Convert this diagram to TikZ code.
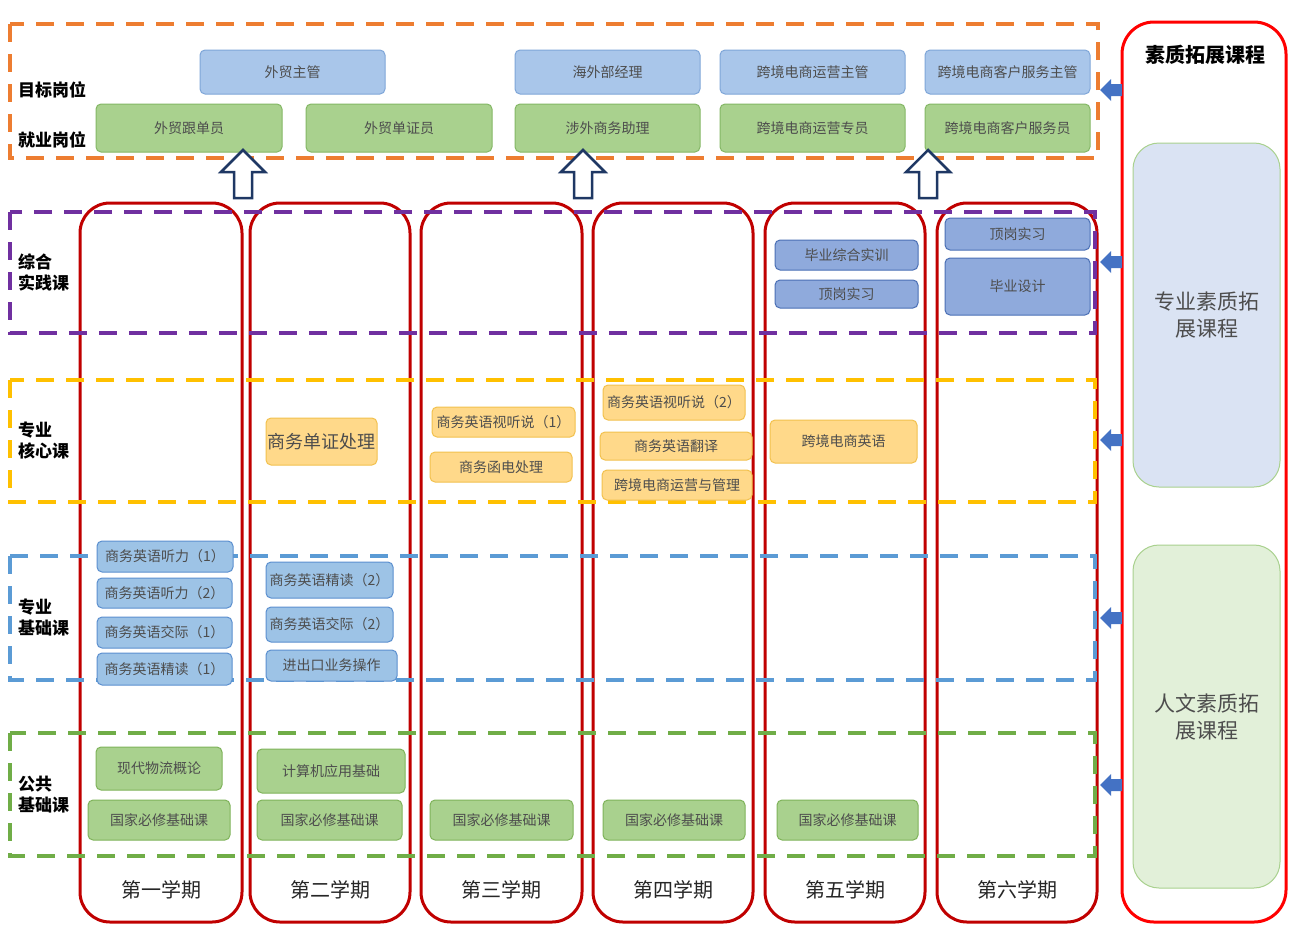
\documentclass[tikz,border=0pt]{standalone}
\usepackage{fontspec}
\setmainfont{Noto Sans CJK SC}
\definecolor{semred}{HTML}{C00000}
\definecolor{panelred}{HTML}{FF0000}
\definecolor{bandorange}{HTML}{ED7D31}
\definecolor{bandpurple}{HTML}{7030A0}
\definecolor{bandyellow}{HTML}{FFC000}
\definecolor{bandblue}{HTML}{5B9BD5}
\definecolor{bandgreen}{HTML}{70AD47}
\definecolor{jobbluefill}{HTML}{A9C6EA}
\definecolor{jobblueline}{HTML}{7FA6D8}
\definecolor{jobgreenfill}{HTML}{A9D18E}
\definecolor{jobgreenline}{HTML}{84B765}
\definecolor{pracfill}{HTML}{8FAADC}
\definecolor{pracline}{HTML}{4A6FB5}
\definecolor{corefill}{HTML}{FFD98A}
\definecolor{coreline}{HTML}{F2C14E}
\definecolor{basefill}{HTML}{9DC3E6}
\definecolor{baseline}{HTML}{5B8FCF}
\definecolor{pubfill}{HTML}{A9D18E}
\definecolor{publine}{HTML}{7FB35A}
\definecolor{txtgrey}{HTML}{4D4D4D}
\definecolor{arrowblue}{HTML}{4472C4}
\definecolor{navy}{HTML}{1F3864}
\definecolor{panelbluefill}{HTML}{DAE3F3}
\definecolor{panelgreenfill}{HTML}{E2F0D9}
\definecolor{panelline}{HTML}{A9D18E}
\tikzset{
  sz/.style 2 args={minimum width=#1, minimum height=#2},
  band/.style={line width=4pt, dash pattern=on 18pt off 12pt},
  semcol/.style={draw=semred, line width=3pt, rounded corners=30pt},
  cbox/.style={rounded corners=5pt, line width=1pt, text=txtgrey, font=\fontsize{14}{16}\selectfont},
  jobblue/.style={cbox, fill=jobbluefill, draw=jobblueline},
  jobgreen/.style={cbox, fill=jobgreenfill, draw=jobgreenline},
  prac/.style={cbox, fill=pracfill, draw=pracline},
  core/.style={cbox, fill=corefill, draw=coreline},
  base/.style={cbox, fill=basefill, draw=baseline},
  pub/.style={cbox, fill=pubfill, draw=publine},
  rowlabel/.style={anchor=west, align=left, font=\fontsize{17}{21}\selectfont\bfseries, text=black},
  semlabel/.style={font=\fontsize{20}{24}\selectfont, text=black!85},
  hollowup/.style={draw=navy, fill=white, line width=2.5pt, line join=miter},
  leftarrow/.style={fill=arrowblue},
}
\begin{document}
\begin{tikzpicture}[x=1pt,y=-1pt, every node/.style={inner sep=0pt, outer sep=0pt}]
\useasboundingbox (0,0) rectangle (1289,929);
\fill[white] (0,0) rectangle (1289,929);

% semester columns
\node[semcol, sz={162pt}{719pt}] (s1) at (161,562.5) {};
\node[semcol, sz={160pt}{719pt}] (s2) at (330,562.5) {};
\node[semcol, sz={161pt}{719pt}] (s3) at (501.5,562.5) {};
\node[semcol, sz={160pt}{719pt}] (s4) at (673,562.5) {};
\node[semcol, sz={160pt}{719pt}] (s5) at (845,562.5) {};
\node[semcol, sz={160pt}{719pt}] (s6) at (1017,562.5) {};

\node[semlabel] (l1) at (161,890) {第一学期};
\node[semlabel] (l2) at (330,890) {第二学期};
\node[semlabel] (l3) at (501.5,890) {第三学期};
\node[semlabel] (l4) at (673,890) {第四学期};
\node[semlabel] (l5) at (845,890) {第五学期};
\node[semlabel] (l6) at (1017,890) {第六学期};

% dashed bands
\draw[band, draw=bandorange] (10,24) rectangle (1098,158);
\draw[band, draw=bandpurple] (10,212) rectangle (1095,333);
\draw[band, draw=bandyellow] (10,380) rectangle (1095,502);
\draw[band, draw=bandblue] (10,556) rectangle (1095,680);
\draw[band, draw=bandgreen] (10,733) rectangle (1095,856);

% row labels
\node[rowlabel] (r1) at (18,90) {目标岗位};
\node[rowlabel] (r2) at (18,140) {就业岗位};
\node[rowlabel] (r3) at (18,272) {综合\\实践课};
\node[rowlabel] (r4) at (18,440) {专业\\核心课};
\node[rowlabel] (r5) at (18,617) {专业\\基础课};
\node[rowlabel] (r6) at (18,795) {公共\\基础课};

% target / employment posts
\node[jobblue, sz={185pt}{44pt}] (t1) at (292.5,72) {外贸主管};
\node[jobblue, sz={185pt}{44pt}] (t2) at (607.5,72) {海外部经理};
\node[jobblue, sz={185pt}{44pt}] (t3) at (812.5,72) {跨境电商运营主管};
\node[jobblue, sz={165pt}{44pt}] (t4) at (1007.5,72) {跨境电商客户服务主管};
\node[jobgreen, sz={186pt}{48pt}] (e1) at (189,128) {外贸跟单员};
\node[jobgreen, sz={186pt}{48pt}] (e2) at (399,128) {外贸单证员};
\node[jobgreen, sz={185pt}{48pt}] (e3) at (607.5,128) {涉外商务助理};
\node[jobgreen, sz={185pt}{48pt}] (e4) at (812.5,128) {跨境电商运营专员};
\node[jobgreen, sz={165pt}{48pt}] (e5) at (1007.5,128) {跨境电商客户服务员};

% hollow up arrows
\foreach \ax/\nm in {243/ua1, 583/ua2, 928/ua3}{
  \draw[hollowup] (\ax,150) -- (\ax+22,172) -- (\ax+9,172) -- (\ax+9,198)
     -- (\ax-9,198) -- (\ax-9,172) -- (\ax-22,172) -- cycle;
}

% practice courses
\node[prac, sz={143pt}{30pt}] (p1) at (846.5,255) {毕业综合实训};
\node[prac, sz={143pt}{28pt}] (p2) at (846.5,294) {顶岗实习};
\node[prac, sz={145pt}{32pt}] (p3) at (1017.5,234) {顶岗实习};
\node[prac, sz={145pt}{57pt}] (p4) at (1017.5,286.5) {毕业设计};

% core courses
\node[core, sz={111pt}{47pt}, font=\fontsize{18}{20}\selectfont] (c1) at (321.5,441.5) {商务单证处理};
\node[core, sz={143pt}{30pt}] (c2) at (503.5,422) {商务英语视听说（1）};
\node[core, sz={142pt}{30pt}] (c3) at (501,467) {商务函电处理};
\node[core, sz={142pt}{35pt}] (c4) at (674,402.5) {商务英语视听说（2）};
\node[core, sz={152pt}{28pt}] (c5) at (676,446) {商务英语翻译};
\node[core, sz={150pt}{30pt}] (c6) at (677,485) {跨境电商运营与管理};
\node[core, sz={147pt}{43pt}] (c7) at (843.5,441.5) {跨境电商英语};

% professional basic courses
\node[base, sz={136pt}{31pt}] (b1) at (165,556.5) {商务英语听力（1）};
\node[base, sz={135pt}{30pt}] (b2) at (164.5,593) {商务英语听力（2）};
\node[base, sz={135pt}{31pt}] (b3) at (164.5,632.5) {商务英语交际（1）};
\node[base, sz={135pt}{32pt}] (b4) at (164.5,669) {商务英语精读（1）};
\node[base, sz={127pt}{36pt}] (b5) at (329.5,580) {商务英语精读（2）};
\node[base, sz={127pt}{35pt}] (b6) at (329.5,624.5) {商务英语交际（2）};
\node[base, sz={131pt}{31pt}] (b7) at (331.5,665.5) {进出口业务操作};

% public basic courses
\node[pub, sz={126pt}{43pt}] (g1) at (159,768.5) {现代物流概论};
\node[pub, sz={148pt}{44pt}] (g2) at (331,771) {计算机应用基础};
\node[pub, sz={142pt}{40pt}] (g3) at (159,820) {国家必修基础课};
\node[pub, sz={145pt}{40pt}] (g4) at (329.5,820) {国家必修基础课};
\node[pub, sz={143pt}{40pt}] (g5) at (501.5,820) {国家必修基础课};
\node[pub, sz={142pt}{40pt}] (g6) at (674,820) {国家必修基础课};
\node[pub, sz={141pt}{40pt}] (g7) at (847.5,820) {国家必修基础课};

% right panel
\node[draw=panelred, line width=3pt, rounded corners=32pt, sz={164pt}{900pt}] (panel) at (1204,472) {};
\node[font=\fontsize{20}{24}\selectfont\bfseries, text=black] (ptitle) at (1205,55) {素质拓展课程};
\node[draw=panelline, fill=panelbluefill, line width=1pt, rounded corners=26pt, sz={147pt}{344pt},
      align=center, text=txtgrey, font=\fontsize{21}{27}\selectfont] (pq) at (1206.5,315) {专业素质拓\\展课程};
\node[draw=panelline, fill=panelgreenfill, line width=1pt, rounded corners=26pt, sz={147pt}{343pt},
      align=center, text=txtgrey, font=\fontsize{21}{27}\selectfont] (ph) at (1206.5,716.5) {人文素质拓\\展课程};

% small blue arrows
\foreach \ay in {90,262,440,618,785}{
  \fill[leftarrow] (1100,\ay) -- (1111,\ay-11) -- (1111,\ay-6) -- (1122,\ay-6)
     -- (1122,\ay+6) -- (1111,\ay+6) -- (1111,\ay+11) -- cycle;
}
\end{tikzpicture}
\end{document}
